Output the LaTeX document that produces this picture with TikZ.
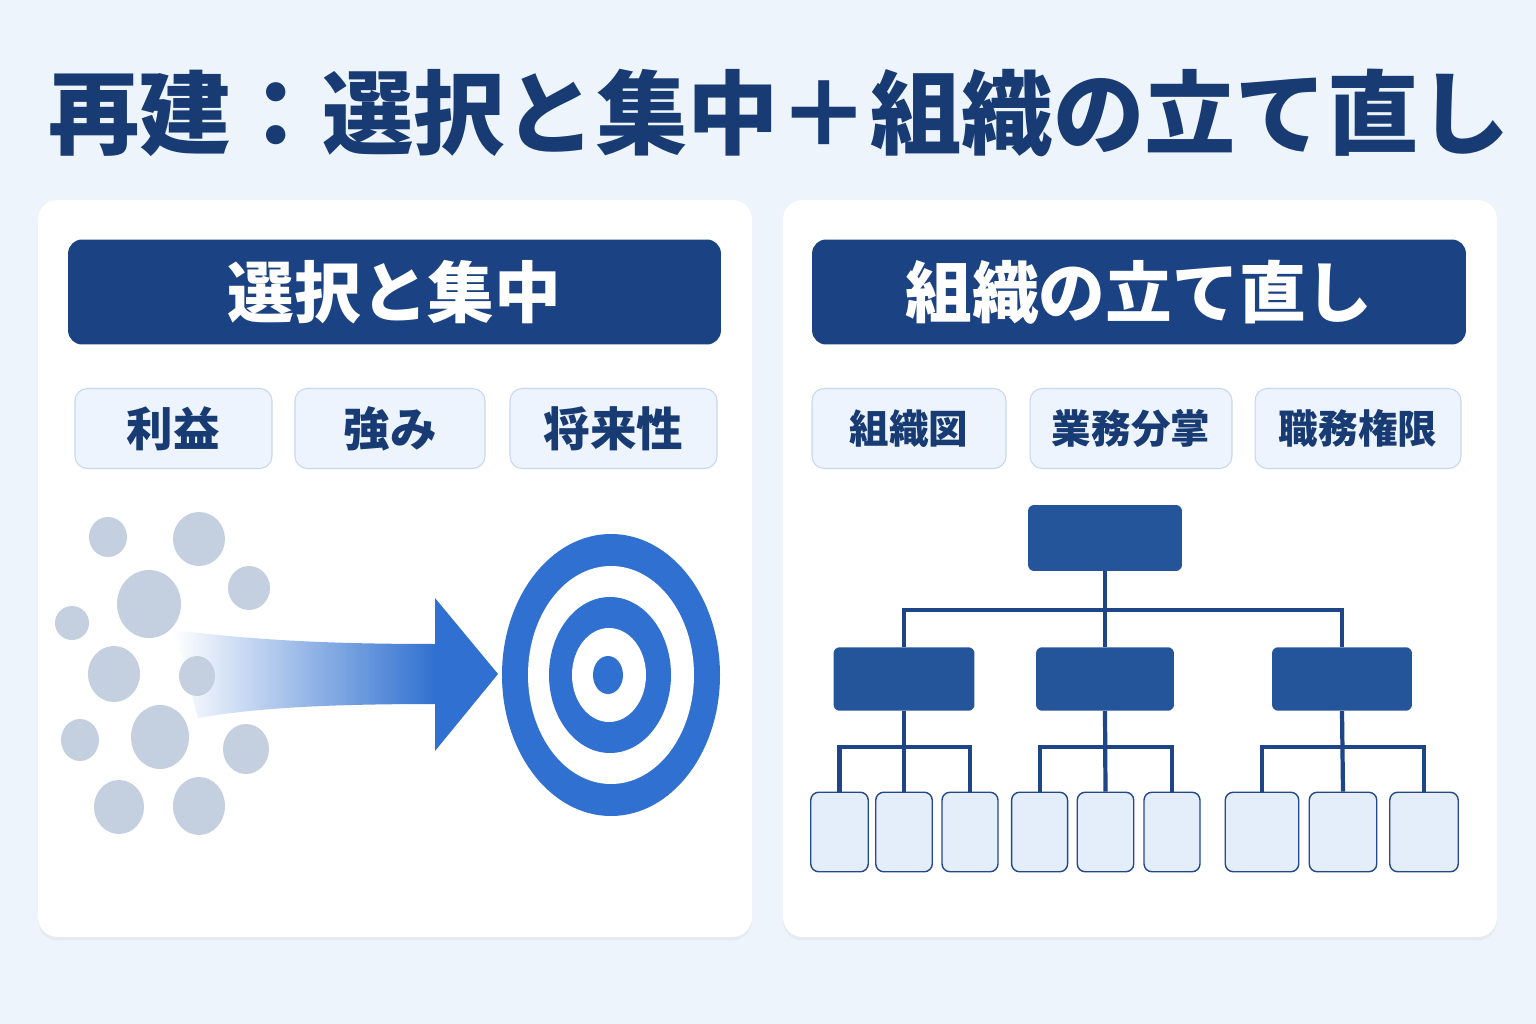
\documentclass[tikz,border=0pt]{standalone}
\usepackage{fontspec}
\newfontfamily\jpfont{Noto Sans CJK JP}
\usepackage{xcolor}
\usetikzlibrary{positioning,shadows,calc}

\definecolor{pagebg}{HTML}{EEF4FC}
\definecolor{titleblue}{HTML}{173B72}
\definecolor{headblue}{HTML}{1B4282}
\definecolor{tagfill}{HTML}{EDF4FD}
\definecolor{tagline}{HTML}{C7D8EE}
\definecolor{dotgray}{HTML}{C4D0E0}
\definecolor{tblue}{HTML}{2F70D0}
\definecolor{orgblue}{HTML}{24549A}
\definecolor{linenavy}{HTML}{1E4587}
\definecolor{leaffill}{HTML}{E4EEFB}
\definecolor{leafline}{HTML}{23498C}

\begin{document}
\begin{tikzpicture}[
  x=0.02cm, y=-0.02cm,
  panel/.style={fill=white, rounded corners=11pt, inner sep=0pt, minimum width=14.28cm, minimum height=14.74cm,
    drop shadow={opacity=0.07, shadow xshift=0pt, shadow yshift=-2pt}},
  header/.style={fill=headblue, rounded corners=8pt, inner sep=0pt, minimum height=2.1cm, text=white,
    font=\jpfont\bfseries\fontsize{38}{44}\selectfont},
  tag/.style={fill=tagfill, draw=tagline, line width=0.6pt, rounded corners=7pt, inner sep=0pt, minimum height=1.6cm,
    text=titleblue, font=\jpfont\bfseries\fontsize{26.5}{30}\selectfont},
  smalltag/.style={tag, font=\jpfont\bfseries\fontsize{22.5}{26}\selectfont},
  orgbox/.style={fill=orgblue, rounded corners=3.5pt, inner sep=0pt},
  leaf/.style={fill=leaffill, draw=leafline, line width=0.8pt, rounded corners=4.5pt, inner sep=0pt, minimum height=1.59cm},
  orgline/.style={draw=linenavy, line width=2.4pt}
]
\useasboundingbox[fill=pagebg] (0,0) rectangle (1536,1024);

\node[text=titleblue, font=\jpfont\bfseries\fontsize{52}{60}\selectfont] (title) at (779,113) {再建：選択と集中＋組織の立て直し};

\node[panel] (leftpanel) at (395,568.5) {};
\node[panel] (rightpanel) at (1140,568.5) {};

\node[header, minimum width=13.06cm] (selhead) at (394.5,292) {選択と集中};
\node[header, minimum width=13.08cm] (orghead) at (1139,292) {組織の立て直し};

\node[tag, minimum width=3.94cm] (profit) at (173.5,428.5) {利益};
\node[tag, minimum width=3.8cm] (strength) at (390,428.5) {強み};
\node[tag, minimum width=4.14cm] (future) at (613.5,428.5) {将来性};

\node[smalltag, minimum width=3.88cm] (chart) at (909,428.5) {組織図};
\node[smalltag, minimum width=4.04cm] (duties) at (1131,428.5) {業務分掌};
\node[smalltag, minimum width=4.12cm] (authority) at (1358,428.5) {職務権限};

\shade[left color=white, right color=tblue] (174,630) .. controls (260,641) and (340,644) .. (437,644)
  -- (437,704) .. controls (340,704) and (260,707) .. (198,718) -- cycle;

\foreach \cx/\cy/\rx/\ry in {108/537/19/20, 199/539/26/27, 149/604/32/34, 249/588/21/22,
  72/623/17/17, 114/674/26/28, 197/676/18/20, 160/737/29/32, 80/740/19/21,
  246/749/23/25, 119/807/25/27, 199/806/26/29}
  \fill[dotgray] (\cx,\cy) ellipse [x radius=\rx, y radius=\ry];

\fill[tblue] (435,598) -- (498,674) -- (435,751) -- cycle;

\fill[tblue] (611,675) ellipse [x radius=109, y radius=141];
\fill[white] (611,675) ellipse [x radius=83, y radius=109];
\fill[tblue] (610,675) ellipse [x radius=61, y radius=78];
\fill[white] (609,675) ellipse [x radius=37, y radius=47];
\fill[tblue] (608,675) ellipse [x radius=15, y radius=19];

\node[orgbox, minimum width=3.08cm, minimum height=1.32cm] (top) at (1105,538) {};
\node[orgbox, minimum width=2.82cm, minimum height=1.27cm] (unitA) at (904,679) {};
\node[orgbox, minimum width=2.76cm, minimum height=1.27cm] (unitB) at (1105,679) {};
\node[orgbox, minimum width=2.8cm, minimum height=1.27cm] (unitC) at (1342,679) {};

\foreach \n/\cx/\w in {a1/839.5/1.15, a2/904/1.13, a3/970/1.12,
  b1/1039.6/1.12, b2/1105.5/1.13, b3/1172/1.12,
  c1/1262/1.47, c2/1343/1.35, c3/1424/1.37}
  \node[leaf, minimum width=\w cm] (\n) at (\cx,832) {};

\coordinate (split) at (1105,610);
\draw[orgline] (top.south) -- (split);
\draw[orgline] (unitA.north) -- (unitA.north |- split) -- (unitC.north |- split) -- (unitC.north);
\draw[orgline] (split) -- (unitB.north);

\foreach \u/\l/\m/\r in {unitA/a1/a2/a3, unitB/b1/b2/b3, unitC/c1/c2/c3} {
  \coordinate (\u-fork) at ($(\u.south)+(0,36)$);
  \draw[orgline] (\u.south) -- (\m.north);
  \draw[orgline] (\l.north) -- (\l.north |- \u-fork) -- (\r.north |- \u-fork) -- (\r.north);
}
\end{tikzpicture}
\end{document}
